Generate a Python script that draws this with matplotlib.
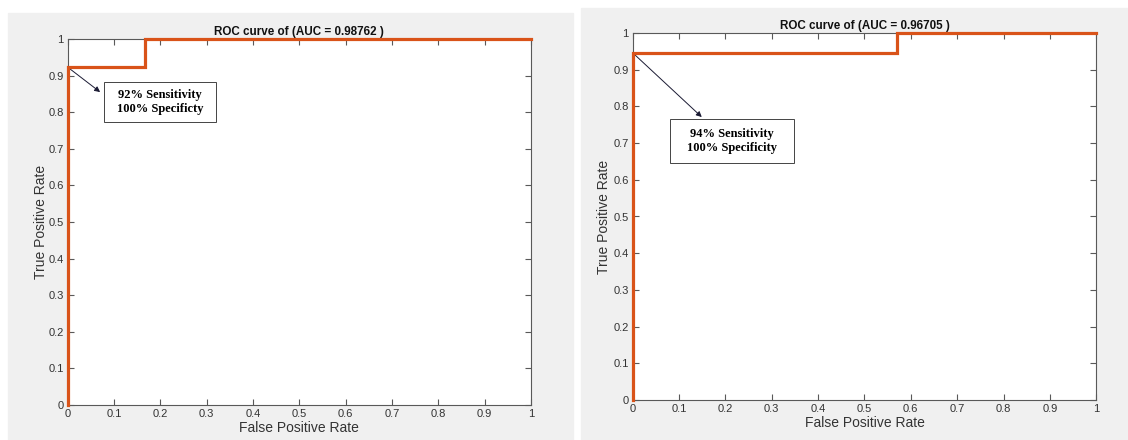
import numpy as np
import matplotlib
matplotlib.use("Agg")
import matplotlib.pyplot as plt
from matplotlib.patches import Rectangle

# ROC curve points
fpr_left = [0, 0, 0.167, 0.167, 1]
tpr_left = [0, 0.923, 0.923, 1, 1]
auc_left = "0.98762"
note_left = "92% Sensitivity\n100% Specificty"

fpr_right = [0, 0, 0.57, 0.57, 1]
tpr_right = [0, 0.946, 0.946, 1, 1]
auc_right = "0.96705"
note_right = "94% Sensitivity\n100% Specificity"

ticks = np.round(np.arange(0, 1.01, 0.1), 1)
tick_labels = ["0"] + ["%.1f" % t for t in ticks[1:-1]] + ["1"]

line_color = "#D95319"
panel_gray = "#F0F0F0"
axis_gray = "#595959"

plt.rcParams["font.family"] = ["Liberation Sans", "DejaVu Sans"]

fig = plt.figure(figsize=(11.28, 4.4), dpi=100, facecolor="white")

# gray figure backgrounds like two MATLAB windows (behind the axes)
fig.patches.append(Rectangle((8 / 1128, 0), 565 / 1128, 427 / 440,
                             transform=fig.transFigure, color=panel_gray, zorder=-10))
fig.patches.append(Rectangle((581 / 1128, 0), 547 / 1128, 432 / 440,
                             transform=fig.transFigure, color=panel_gray, zorder=-10))


def roc_panel(rect, fpr, tpr, auc, note, tip, box, ylabelpad):
    ax = fig.add_axes(rect)
    ax.set_facecolor("white")
    ax.plot(fpr, tpr, color=line_color, lw=2.3, clip_on=False, zorder=5,
            solid_joinstyle="miter")
    ax.set_xlim(0, 1)
    ax.set_ylim(0, 1)
    ax.set_xticks(ticks)
    ax.set_yticks(ticks)
    ax.set_xticklabels(tick_labels)
    ax.set_yticklabels(tick_labels)
    ax.tick_params(direction="in", length=4, width=0.8, colors=axis_gray,
                   labelcolor="#333333", labelsize=8, top=True, right=True,
                   pad=3)
    for s in ax.spines.values():
        s.set_color(axis_gray)
        s.set_linewidth(0.8)
    ax.set_title("ROC curve of (AUC = %s )" % auc, fontsize=8.4, fontweight="bold",
                 color="#111111", pad=3)
    ax.set_xlabel("False Positive Rate", fontsize=10, color="#333333", labelpad=1)
    ax.set_ylabel("True Positive Rate", fontsize=10, color="#333333",
                  labelpad=ylabelpad)
    # arrow from the operating point
    ax.annotate("", xy=tip, xytext=(fpr[1], tpr[1]),
                arrowprops=dict(arrowstyle="-|>", color="#1a1a33", lw=0.7,
                                mutation_scale=8, shrinkA=0, shrinkB=0))
    # text box (x0, y0, width, height in data units)
    x0, y0, w, h = box
    ax.add_patch(Rectangle((x0, y0), w, h, fc="white", ec="#444444", lw=0.7,
                           zorder=6))
    ax.text(x0 + w / 2, y0 + h / 2, note, ha="center", va="center",
            fontsize=9, fontweight="bold", family="Liberation Serif",
            linespacing=1.15, zorder=7)
    return ax


roc_panel([67.7 / 1128, 35 / 440, 463.3 / 1128, 366 / 440],
          fpr_left, tpr_left, auc_left, note_left,
          tip=(0.070, 0.855), box=(0.078, 0.773, 0.242, 0.109), ylabelpad=0)
roc_panel([632.7 / 1128, 40 / 440, 463.5 / 1128, 367 / 440],
          fpr_right, tpr_right, auc_right, note_right,
          tip=(0.149, 0.771), box=(0.0805, 0.646, 0.2675, 0.12), ylabelpad=1.5)

fig.savefig("out.png", dpi=100, facecolor="white")
